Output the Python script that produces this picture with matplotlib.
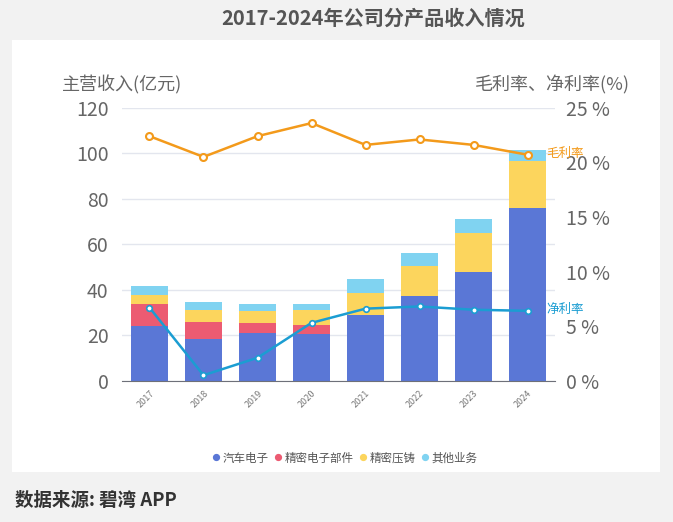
import numpy as np
import matplotlib.pyplot as plt
from matplotlib.patches import Rectangle
from matplotlib.lines import Line2D
from matplotlib.ticker import FuncFormatter

plt.rcParams['font.family'] = ['Noto Sans CJK SC', 'DejaVu Sans']

years = ['2017', '2018', '2019', '2020', '2021', '2022', '2023', '2024']
auto_elec = [24.2, 18.2, 21.1, 20.7, 29.0, 37.2, 47.9, 75.8]
precision_parts = [9.7, 7.7, 4.1, 3.9, 0, 0, 0, 0]
die_casting = [3.9, 5.2, 5.4, 6.6, 9.6, 13.2, 16.9, 20.8]
other_biz = [3.7, 3.4, 3.1, 2.4, 6.0, 5.8, 6.3, 4.9]
gross_margin = [22.4, 20.5, 22.4, 23.6, 21.6, 22.1, 21.6, 20.7]
net_margin = [6.7, 0.5, 2.1, 5.3, 6.6, 6.8, 6.5, 6.4]

series = [
    ('汽车电子', auto_elec, '#5a77d6'),
    ('精密电子部件', precision_parts, '#ec5b72'),
    ('精密压铸', die_casting, '#fcd55d'),
    ('其他业务', other_biz, '#80d3f1'),
]

fig = plt.figure(figsize=(6.73, 5.22), dpi=100)
fig.patch.set_facecolor('#f2f2f2')
# white panel behind the chart
panel = Rectangle((12 / 673, 1 - 472 / 522), 648 / 673, 432 / 522,
                  transform=fig.transFigure, facecolor='white',
                  edgecolor='none', zorder=-10)
fig.patches.append(panel)

ax = fig.add_axes([0.182, 0.2707, 0.642, 0.5228])
ax.set_facecolor('none')
x = np.arange(len(years))
bottom = np.zeros(len(years))
for name, vals, color in series:
    ax.bar(x, vals, bottom=bottom, width=0.685, color=color, label=name, zorder=2)
    bottom += np.array(vals)

ax.set_xlim(-0.5, len(years) - 0.5)
ax.set_ylim(0, 120)
ax.set_yticks(range(0, 121, 20))
ax.grid(axis='y', color='#e3e6ee', linewidth=1, zorder=0)
for s in ['top', 'right', 'left']:
    ax.spines[s].set_visible(False)
ax.spines['bottom'].set_color('#6e7079')
ax.tick_params(axis='y', length=0, labelsize=14, labelcolor='#666666', pad=10)
ax.tick_params(axis='x', length=0, labelsize=6.5, labelcolor='#777777', pad=6)
ax.set_xticks(x)
ax.set_xticklabels(years, rotation=45, ha='right', rotation_mode='anchor')

ax2 = ax.twinx()
ax2.set_ylim(0, 25)
ax2.set_yticks(range(0, 26, 5))
ax2.yaxis.set_major_formatter(FuncFormatter(lambda v, p: f'{int(v)} %'))
for s in ax2.spines.values():
    s.set_visible(False)
ax2.tick_params(axis='y', length=0, labelsize=14, labelcolor='#666666', pad=8)

for lbl in ax.get_yticklabels() + ax2.get_yticklabels():
    lbl.set_fontweight('light')

ax2.plot(x, gross_margin, color='#f39a1b', linewidth=1.8, marker='o', markersize=5,
         markerfacecolor='white', markeredgewidth=1.5, zorder=5)
ax2.plot(x, net_margin, color='#1b9dd2', linewidth=1.8, marker='o', markersize=4,
         markerfacecolor='white', markeredgewidth=1.2, zorder=5)
ax2.text(x[-1] + 0.35, gross_margin[-1] + 0.1, '毛利率', color='#f39a1b', fontsize=9,
         style='italic', va='center', ha='left')
ax2.text(x[-1] + 0.35, net_margin[-1] + 0.1, '净利率', color='#1b9dd2', fontsize=9,
         style='italic', va='center', ha='left')

fig.text(62 / 673, 1 - 85 / 522, '主营收入(亿元)', fontsize=13, color='#666666',
         ha='left', va='center', fontweight='light')
fig.text(630 / 673, 1 - 85 / 522, '毛利率、净利率(%)', fontsize=13, color='#666666',
         ha='right', va='center', fontweight='light')

fig.text(373 / 673, 1 - 18 / 522, '2017-2024年公司分产品收入情况', fontsize=14.5,
         fontweight='bold', color='#555555', ha='center', va='center')
fig.text(15 / 673, 1 - 500 / 522, '数据来源: 碧湾 APP', fontsize=13.3,
         fontweight='bold', color='#333333', ha='left', va='center')

hs = [Line2D([], [], marker='o', linestyle='', color=c, markersize=4.2) for _, _, c in series]
fig.legend(hs, [n for n, _, _ in series], loc='center', bbox_to_anchor=(344 / 673, 1 - 458 / 522),
           ncol=4, frameon=False, fontsize=8.3, handletextpad=0.05, columnspacing=0.35,
           labelcolor='#555555', handlelength=1)

fig.savefig('out.png', dpi=100, facecolor=fig.get_facecolor())
